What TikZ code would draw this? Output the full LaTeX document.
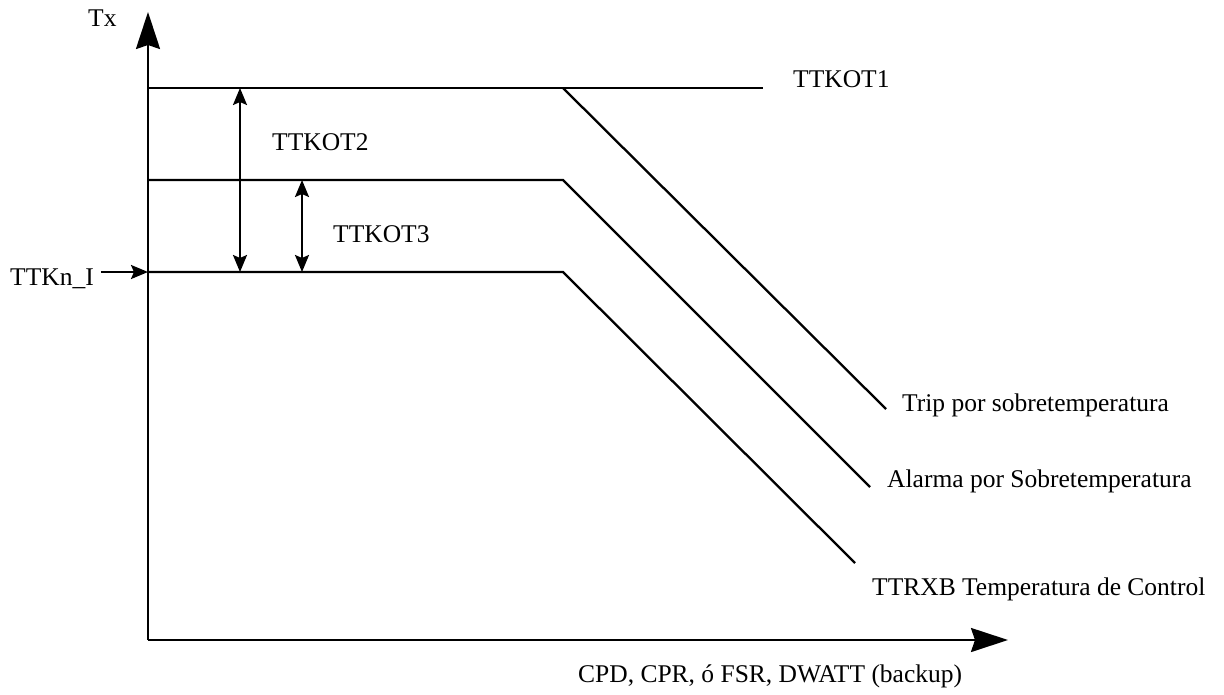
\documentclass[tikz,border=0pt]{standalone}
\usepackage{fontspec}
\setmainfont{Liberation Serif}
\usetikzlibrary{arrows.meta}
\tikzset{>={Stealth[length=17pt,width=14pt,inset=3pt]}}
\tikzset{
  axis/.style={line width=2.4pt,-{Stealth[length=37pt,width=24pt,inset=4pt]}},
  limit/.style={line width=2.3pt},
  lbl/.style={anchor=base west,inner sep=0pt,font=\fontsize{25.5}{30}\selectfont}
}

\begin{document}
\begin{tikzpicture}[x=1pt,y=-1pt]
            \useasboundingbox (0,0) rectangle (1224,694);
            % axes
            \coordinate (o) at (148,640);
            \coordinate (ytip) at (148,12);
            \coordinate (xtip) at (1008,640);
            \draw[axis] (o) -- (ytip);
            \draw[axis] (o) -- (xtip);
            \node[lbl] (tx) at (88,26) {Tx};
            \node[lbl] (cpd) at (578,682) {CPD, CPR, ó FSR, DWATT (backup)};
            % levels and knees
            \coordinate (a1) at (148,88);
            \coordinate (b1) at (563,88);
            \coordinate (e1) at (763,88);
            \coordinate (a2) at (148,180);
            \coordinate (b2) at (563,180);
            \coordinate (a3) at (148,272);
            \coordinate (b3) at (563,272);
            \coordinate (c1) at (886,409);
            \coordinate (c2) at (870,487);
            \coordinate (c3) at (855,563);
            \draw[limit] (a1) -- (e1);
            \draw[limit] (b1) -- (c1);
            \draw[limit] (a2) -- (b2) -- (c2);
            \draw[limit] (a3) -- (b3) -- (c3);
            \node[lbl] (kot1) at (793,87) {TTKOT1};
            \node[lbl] (trip) at (902,411) {Trip por sobretemperatura};
            \node[lbl] (alarma) at (887,487) {Alarma por Sobretemperatura};
            \node[lbl] (ttrxb) at (872,595) {TTRXB Temperatura de Control};
            % offsets
            \coordinate (d1) at (240,88);
            \coordinate (d2) at (302,180);
            \draw[limit,<->] (d1) -- (d1 |- a3);
            \draw[limit,<->] (d2) -- (d2 |- a3);
            \node[lbl] (kot2) at (272,150) {TTKOT2};
            \node[lbl] (kot3) at (333,242) {TTKOT3};
            % reference input
            \node[lbl] (ttkn) at (10,285) {TTKn\_I};
            \draw[limit,->] ([xshift=7pt]ttkn.east |- a3) -- (a3);
        \end{tikzpicture}
\end{document}
